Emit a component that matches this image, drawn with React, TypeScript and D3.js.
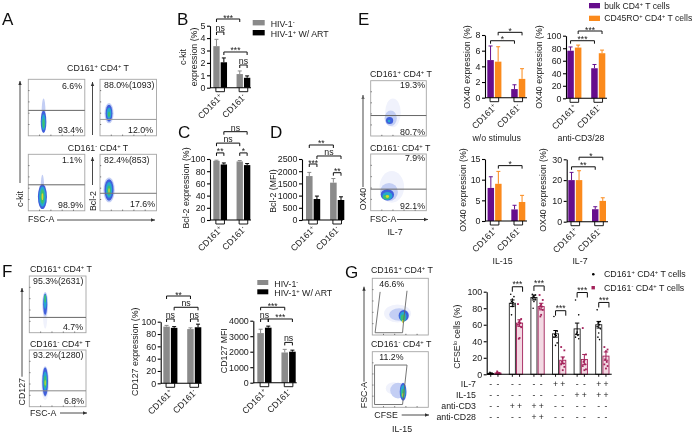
import React, { useEffect, useRef } from "react";
import * as d3 from "d3";

const FONT = "'Liberation Sans', Arial, sans-serif";
const GRAY = "#8a8a8a";
const BLACK = "#000000";
const PURPLE = "#66118c";
const ORANGE = "#fb8a1c";
const CRIMSON = "#a3215a";

// bar means and error tops, order: CD161+ (two series), CD161- (two series)
const ckitMeans = [3.35, 2.05, 1.1, 0.8];
const ckitTops = [3.9, 2.4, 1.35, 0.95];
const bcl2Means = [97, 91, 96, 90];
const bcl2Tops = [98, 93.5, 97.5, 92.5];
const bcl2MfiMeans = [1800, 860, 1530, 820];
const bcl2MfiTops = [1950, 980, 1700, 950];
const ox40NoStimMeans = [4.8, 4.6, 1.1, 2.4];
const ox40NoStimTops = [6.6, 6.5, 1.65, 3.7];
const ox40Cd3Means = [76, 81, 48, 72];
const ox40Cd3Tops = [82, 85, 54, 77];
const ox40Il15Means = [8, 9, 2.8, 4.6];
const ox40Il15Tops = [10.7, 12, 3.8, 6.2];
const ox40Il7Means = [20, 20, 6, 10];
const ox40Il7Tops = [23.7, 24.5, 7.2, 11.5];
const cd127Means = [92, 90, 88, 91];
const cd127Tops = [94, 92, 90, 96];
const cd127MfiMeans = [3200, 3550, 1950, 2000];
const cd127MfiTops = [3450, 3650, 2150, 2100];

// brackets: first bar, last bar, height on the y axis, label
type Bracket = [number, number, number, string];
const ckitBrackets: Bracket[] = [[0, 2, 5.54, "***"], [0, 1, 4.49, "ns"], [1, 3, 2.88, "***"], [2, 3, 1.83, "ns"]];
const bcl2Brackets: Bracket[] = [[1, 3, 144.8, "ns"], [0, 2, 126, "ns"], [0, 1, 110, "**"], [2, 3, 110, "*"]];
const bcl2MfiBrackets: Bracket[] = [[0, 2, 3074, "**"], [1, 3, 2623, "ns"], [0, 1, 2295, "***"], [2, 3, 1939, "**"]];
const ox40NoStimBrackets: Bracket[] = [[1, 3, 8.34, "*"], [0, 2, 7.27, "*"]];
const ox40Cd3Brackets: Bracket[] = [[1, 3, 107.5, "***"], [0, 2, 92, "***"]];
const ox40Il15Brackets: Bracket[] = [[1, 3, 13.4, "*"]];
const ox40Il7Brackets: Bracket[] = [[1, 3, 31, "*"], [0, 2, 26.4, "**"]];
const cd127Brackets: Bracket[] = [[0, 2, 141.7, "**"], [1, 3, 123.4, "ns"], [0, 1, 104.4, "ns"], [2, 3, 104.4, "ns"]];
const cd127MfiBrackets: Bracket[] = [[0, 2, 4865, "***"], [0, 1, 4110, "ns"], [1, 3, 4110, "***"], [2, 3, 2600, "ns"]];

// CFSE proliferation panel
const cfseGroups = ["none", "cd3", "cd328", "il7", "il15", "il7il15"];
const cfsePosMeans = [1, 86, 93, 49, 55, 60];
const cfseNegMeans = [1.5, 62, 82, 17, 18, 22];
const cfsePosSem = [0.5, 4, 3, 4, 7, 4];
const cfseNegSem = [0.7, 4, 4, 4, 6, 5];
const cfsePosDots = [
  [0.5, 1, 1.5, 2.5, 0.8],
  [97, 94, 91, 88, 87, 86, 84, 82, 72],
  [97, 96, 95, 94, 93, 92, 91, 88, 80],
  [70, 52, 50, 48, 47, 45, 38, 35],
  [90, 72, 51, 49, 47, 45, 43],
  [78, 64, 63, 62, 60, 58, 55, 50, 45, 42],
];
const cfseNegDots = [
  [0.5, 1, 2, 3.5, 1],
  [85, 67, 65, 63, 62, 60, 57, 44, 43],
  [96, 90, 85, 83, 82, 80, 78, 72, 70],
  [33, 29, 20, 15, 13, 12, 9, 5],
  [56, 24, 17, 15, 12, 10, 6, 5],
  [33, 30, 28, 18, 15, 12, 10, 7],
];
const cfseBrackets: [number, number][] = [[1, 106], [2, 107], [3, 77], [4, 99], [5, 87]];
const il7Row = ["-", "-", "-", "+", "-", "+"];
const il15Row = ["-", "-", "-", "-", "+", "+"];
const cd3Row = ["-", "+", "+", "-", "-", "-"];
const cd28Row = ["-", "-", "+", "-", "-", "-"];

// flow density contours: FSC %, marker %, radius x, radius y, density level
type Blob = [number, number, number, number, number];
const densityColors = ["#f0f2fc", "#c3cef4", "#3f5fdc", "#25a8d0", "#3cc070", "#d8d830"];
const kitPosBlobs: Blob[] = [[27, 40, 3.5, 26, 1], [27, 25, 5, 20, 2], [27, 24, 3.5, 14, 3], [27, 22, 2, 8, 4]];
const bclPosBlobs: Blob[] = [[16, 40, 8, 18, 1], [16, 40, 6, 15, 2], [16, 40, 4, 10, 3], [16, 38, 2, 5, 4]];
const kitNegBlobs: Blob[] = [[25, 40, 3, 24, 1], [25, 25, 8, 22, 2], [25, 25, 6, 18, 3], [25, 25, 3.5, 13, 4], [25, 25, 1.5, 6, 5]];
const bclNegBlobs: Blob[] = [[16, 37, 10, 22, 1], [16, 37, 8, 19, 2], [16, 37, 5.5, 14, 3], [16, 36, 3, 9, 4], [16, 36, 1.2, 4, 5]];
const oxPosBlobs: Blob[] = [[40, 42, 14, 26, 0], [36, 32, 11, 14, 1], [34, 28, 6.5, 6.5, 2], [33, 27, 2.5, 2.5, 3]];
const oxNegBlobs: Blob[] = [[38, 42, 22, 28, 0], [33, 33, 16, 16, 1], [30, 28, 12, 10, 2], [30, 26, 9, 7, 3], [28, 24, 6, 4, 4], [30, 25, 3, 2.5, 5]];
const cd127PosBlobs: Blob[] = [[28, 35, 4, 28, 0], [28, 50, 5, 22, 1], [28, 50, 3.5, 19, 2], [28, 55, 2.5, 13, 3], [28, 60, 1.5, 7, 4]];
const cd127NegBlobs: Blob[] = [[28, 42, 7, 30, 0], [28, 44, 6, 27, 1], [28, 44, 5, 25, 2], [28, 45, 3.5, 17, 3], [28, 44, 2.2, 11, 4], [28, 42, 1, 5, 5]];
const cfsePosBlobs: Blob[] = [[45, 38, 24, 16, 0], [48, 36, 18, 11, 1], [56, 34, 9, 10, 2], [55, 32, 6, 9, 3], [55, 30, 4, 6, 4], [55, 24, 1.8, 3, 5]];
const cfseNegBlobs: Blob[] = [[38, 34, 14, 11, 0], [46, 30, 14, 14, 1], [55, 28, 6, 16, 2], [55, 28, 4.5, 12, 3], [55, 25, 3, 8, 4], [55, 22, 1.4, 3.5, 5]];

// gate outlines in FSC % / marker %
const gatePos: [number, number][] = [[14, 76], [5, 4], [54, 4], [56, 26], [62, 78]];
const gateNeg: [number, number][] = [[4, 76], [62, 76], [54, 5], [4, 5], [4, 76]];

// text with ^ marking a superscript run, e.g. CD161^+
function Rich({ text }: { text: string }) {
  const parts = text.split(/(\^[^\s]+)/).filter((p) => p !== "");
  let raised = false;
  return (
    <>
      {parts.map((p, i) => {
        if (p[0] === "^") {
          raised = true;
          return (
            <tspan key={i} dy={-3} fontSize="0.65em">
              {p.slice(1)}
            </tspan>
          );
        }
        const dy = raised ? 3 : 0;
        raised = false;
        return (
          <tspan key={i} dy={dy}>
            {p}
          </tspan>
        );
      })}
    </>
  );
}

function T({ x, y, text, size = 8.8, anchor = "start", rot = 0, fill = "#1a1a1a" }: any) {
  return (
    <text
      x={x}
      y={y}
      fontSize={size}
      textAnchor={anchor}
      fill={fill}
      fontFamily={FONT}
      transform={rot ? `rotate(${rot},${x},${y})` : undefined}
    >
      <Rich text={text} />
    </text>
  );
}

function YAxis({ scale, ticks, x }: any) {
  const ref = useRef<SVGGElement>(null);
  useEffect(() => {
    const axis = d3
      .axisLeft(scale)
      .tickValues(ticks)
      .tickFormat(d3.format("d") as any)
      .tickSize(3)
      .tickPadding(1.5)
      .tickSizeOuter(0);
    const g = d3.select(ref.current).call(axis as any);
    g.attr("font-family", FONT).attr("font-size", 8.9);
    g.selectAll("path,line").attr("stroke", "#000").attr("stroke-width", 1.1);
    g.selectAll("text").attr("fill", "#1a1a1a");
  }, []);
  return <g ref={ref} transform={`translate(${x},0)`} />;
}

function BracketMark({ x1, x2, y, label, leg = 3, lift = 0 }: any) {
  const isNs = label === "ns";
  return (
    <g>
      <path d={`M${x1},${y + leg}V${y}H${x2}V${y + leg}`} fill="none" stroke="#111" strokeWidth={1} />
      <T x={(x1 + x2) / 2} y={(isNs ? y - 1 : y + 1.5) - lift} text={label} size={isNs ? 8.8 : 8.5} anchor="middle" />
    </g>
  );
}

function BarChart({ axisX, axisEnd, y0, yTop, max, ticks, barsFrom, barsTo, means, tops, colors, brackets, yLabels, labelCy, xLabelY = 10 }: any) {
  const y = d3.scaleLinear().domain([0, max]).range([y0, yTop]);
  const groups = ["CD161^+", "CD161^-"];
  const x0 = d3.scaleBand().domain(groups).range([barsFrom, barsTo]).paddingInner(0.41);
  const x1 = d3.scaleBand().domain(["a", "b"]).range([0, x0.bandwidth()]).paddingInner(0.14);
  const barX = (i: number) => (x0(groups[i >> 1]) as number) + (x1(i % 2 ? "b" : "a") as number);
  const w = x1.bandwidth();
  return (
    <g>
      {means.map((m: number, i: number) => {
        const c = colors[i % 2];
        const cx = barX(i) + w / 2;
        return (
          <g key={i}>
            <path d={`M${cx},${y(m)}V${y(tops[i])}M${cx - 2},${y(tops[i])}H${cx + 2}`} stroke={c} strokeWidth={1} fill="none" />
            <rect x={barX(i)} y={y(m)} width={w} height={y0 - y(m)} fill={c} />
          </g>
        );
      })}
      <line x1={axisX} x2={axisEnd} y1={y0} y2={y0} stroke="#000" strokeWidth={1.1} />
      <YAxis scale={y} ticks={ticks} x={axisX} />
      {groups.map((g) => {
        const c = (x0(g) as number) + x0.bandwidth() / 2;
        return (
          <g key={g}>
            <path d={`M${c - 4.3},${y0}V${y0 + 4}H${c + 4.3}V${y0}`} fill="none" stroke="#000" strokeWidth={0.9} />
            <T x={c + 3} y={y0 + xLabelY} text={g} anchor="end" rot={-45} />
          </g>
        );
      })}
      {brackets.map((b: Bracket, i: number) => (
        <BracketMark key={i} x1={barX(b[0]) + w / 2} x2={barX(b[1]) + w / 2} y={y(b[2])} label={b[3]} />
      ))}
      {yLabels.map((l: any) => (
        <T key={l.text} x={l.x} y={labelCy} text={l.text} anchor="middle" rot={-90} />
      ))}
    </g>
  );
}

function FlowPlot({ x, y, w = 56.5, h = 56.5, blobs, gateY, gateColor = "#666", gate, labels }: any) {
  const sx = d3.scaleLinear().domain([0, 100]).range([x, x + w]);
  const sy = d3.scaleLinear().domain([0, 100]).range([y + h, y]);
  const kx = w / 100;
  const ky = h / 100;
  const line = d3.line();
  return (
    <g>
      <rect x={x} y={y} width={w} height={h} fill="#fff" stroke="#a5a5a5" strokeWidth={0.9} />
      {sx.ticks(6).slice(1, -1).map((t) => (
        <line key={`b${t}`} x1={sx(t)} x2={sx(t)} y1={y + h} y2={y + h - 1.2} stroke="#444" strokeWidth={0.7} />
      ))}
      {sy.ticks(4).slice(1, -1).map((t) => (
        <line key={`l${t}`} x1={x} x2={x + 1.2} y1={sy(t)} y2={sy(t)} stroke="#444" strokeWidth={0.7} />
      ))}
      <g filter="url(#soft)">
        {blobs.map((b: Blob, i: number) => (
          <ellipse key={i} cx={sx(b[0])} cy={sy(b[1])} rx={b[2] * kx} ry={b[3] * ky} fill={densityColors[b[4]]} />
        ))}
      </g>
      {gateY !== undefined && <line x1={x} x2={x + w} y1={sy(gateY)} y2={sy(gateY)} stroke={gateColor} strokeWidth={1} />}
      {gate && (
        <path
          d={line(gate.map((p: [number, number]) => [sx(p[0]), sy(p[1])] as [number, number])) as string}
          fill="none"
          stroke="#666"
          strokeWidth={0.9}
        />
      )}
      {labels.map((l: any) => (
        <T key={l.text} x={l.x} y={l.y} text={l.text} anchor={l.anchor || "start"} />
      ))}
    </g>
  );
}

function Arrow({ x1, y1, x2, y2, color = "#333", width = 0.9 }: any) {
  const a = Math.atan2(y2 - y1, x2 - x1);
  const p = d3.path();
  p.moveTo(x2, y2);
  p.lineTo(x2 - 4 * Math.cos(a) + 1.7 * Math.sin(a), y2 - 4 * Math.sin(a) - 1.7 * Math.cos(a));
  p.lineTo(x2 - 4 * Math.cos(a) - 1.7 * Math.sin(a), y2 - 4 * Math.sin(a) + 1.7 * Math.cos(a));
  p.closePath();
  return (
    <g>
      <line x1={x1} y1={y1} x2={x2} y2={y2} stroke={color} strokeWidth={width} />
      <path d={p.toString()} fill={color} />
    </g>
  );
}

function CfseChart() {
  const axisX = 486.7;
  const y0 = 374.3;
  const y = d3.scaleLinear().domain([0, 100]).range([y0, 291.7]);
  const x0 = d3.scaleBand().domain(cfseGroups).range([487.7, 609]).paddingInner(0.384);
  const x1 = d3.scaleBand().domain(["pos", "neg"]).range([0, x0.bandwidth()]).paddingInner(0.16);
  const w = x1.bandwidth();
  const jitter = (i: number) => [-1.6, 1.6, 0, -0.8, 0.8][i % 5];
  const rows = [
    { label: "IL-7", row: il7Row, y: 386.5 },
    { label: "IL-15", row: il15Row, y: 397.5 },
    { label: "anti-CD3", row: cd3Row, y: 409 },
    { label: "anti-CD28", row: cd28Row, y: 419.5 },
  ];
  return (
    <g>
      {cfseGroups.map((g, i) => {
        const px = (x0(g) as number) + (x1("pos") as number);
        const nx = (x0(g) as number) + (x1("neg") as number);
        const pc = px + w / 2;
        const nc = nx + w / 2;
        return (
          <g key={g}>
            <rect x={px} y={y(cfsePosMeans[i])} width={w} height={y0 - y(cfsePosMeans[i])} fill="#fff" stroke="#222" strokeWidth={0.9} />
            <rect x={nx} y={y(cfseNegMeans[i])} width={w} height={y0 - y(cfseNegMeans[i])} fill="#f3d9e3" stroke={CRIMSON} strokeWidth={0.9} />
            {cfsePosDots[i].map((d, j) => (
              <circle key={j} cx={pc + jitter(j)} cy={y(d)} r={0.8} fill="#000" />
            ))}
            {cfseNegDots[i].map((d, j) => (
              <rect key={j} x={nc + jitter(j) - 0.9} y={y(d) - 0.9} width={1.8} height={1.8} fill={CRIMSON} />
            ))}
            <path
              d={`M${pc},${y(cfsePosMeans[i] - cfsePosSem[i])}V${y(cfsePosMeans[i] + cfsePosSem[i])}M${pc - 2.2},${y(cfsePosMeans[i] + cfsePosSem[i])}H${pc + 2.2}M${pc - 2.2},${y(cfsePosMeans[i] - cfsePosSem[i])}H${pc + 2.2}`}
              stroke="#000"
              strokeWidth={1}
              fill="none"
            />
            <path
              d={`M${nc},${y(cfseNegMeans[i] - cfseNegSem[i])}V${y(cfseNegMeans[i] + cfseNegSem[i])}M${nc - 2.2},${y(cfseNegMeans[i] + cfseNegSem[i])}H${nc + 2.2}M${nc - 2.2},${y(cfseNegMeans[i] - cfseNegSem[i])}H${nc + 2.2}`}
              stroke={CRIMSON}
              strokeWidth={1}
              fill="none"
            />
            <line x1={pc} x2={pc} y1={y0} y2={y0 + 2.5} stroke="#000" strokeWidth={0.9} />
            <line x1={nc} x2={nc} y1={y0} y2={y0 + 2.5} stroke="#000" strokeWidth={0.9} />
            {rows.map((r) => (
              <g key={r.label}>
                <T x={pc} y={r.y} text={r.row[i]} size={8.6} anchor="middle" />
                <T x={nc} y={r.y} text={r.row[i]} size={8.6} anchor="middle" />
              </g>
            ))}
          </g>
        );
      })}
      <line x1={axisX} x2={611.7} y1={y0} y2={y0} stroke="#000" strokeWidth={1.1} />
      <YAxis scale={y} ticks={[0, 20, 40, 60, 80, 100]} x={axisX} />
      {cfseBrackets.map(([g, level]) => {
        const left = (x0(cfseGroups[g]) as number) + w / 2;
        return <BracketMark key={g} x1={left} x2={left + x0.bandwidth() - w + 3} y={y(level)} label="***" leg={5} lift={1} />;
      })}
      {rows.map((r) => (
        <T key={r.label} x={476} y={r.y} text={r.label} anchor="end" />
      ))}
      <T x={460} y={336.7} text="CFSE^lo cells (%)" anchor="middle" rot={-90} />
      <circle cx={593.3} cy={274.3} r={1.3} fill="#000" />
      <T x={604} y={277} text="CD161^+ CD4^+ T cells" />
      <rect x={591.5} y={286} width={3.4} height={3.4} fill={CRIMSON} />
      <T x={604} y={291} text="CD161^- CD4^+ T cells" />
    </g>
  );
}

export default function App() {
  const hiv = [GRAY, BLACK];
  const ox = [PURPLE, ORANGE];
  const letters: [string, number, number][] = [
    ["A", 2, 25], ["B", 177, 24.5], ["C", 178, 138], ["D", 270, 138],
    ["E", 358, 25], ["F", 2, 277], ["G", 345, 278],
  ];
  return (
    <svg width={696} height={435} style={{ position: "absolute", left: 0, top: 0, background: "#fff" }}>
      <defs>
        <filter id="soft" x="-40%" y="-40%" width="180%" height="180%">
          <feGaussianBlur stdDeviation={0.7} />
        </filter>
        <filter id="scan" x="0" y="0" width="100%" height="100%">
          <feGaussianBlur stdDeviation={0.3} />
        </filter>
      </defs>
      <g filter="url(#scan)">
      {letters.map(([l, x, y]) => (
        <T key={l} x={x} y={y} text={l} size={17} fill="#111" />
      ))}

      {/* A */}
      <T x={98} y={71} text="CD161^+ CD4^+ T" anchor="middle" />
      <T x={98} y={150.5} text="CD161^- CD4^+ T" anchor="middle" />
      <FlowPlot x={28.3} y={79.3} blobs={kitPosBlobs} gateY={45} labels={[{ text: "6.6%", x: 82, y: 89, anchor: "end" }, { text: "93.4%", x: 83, y: 133, anchor: "end" }]} />
      <FlowPlot x={100} y={79.3} blobs={bclPosBlobs} gateY={29} gateColor="#999" labels={[{ text: "88.0%(1093)", x: 104, y: 88 }, { text: "12.0%", x: 153, y: 133, anchor: "end" }]} />
      <FlowPlot x={28.3} y={154.3} blobs={kitNegBlobs} gateY={46} labels={[{ text: "1.1%", x: 82, y: 163, anchor: "end" }, { text: "98.9%", x: 83, y: 208, anchor: "end" }]} />
      <FlowPlot x={100} y={154.3} blobs={bclNegBlobs} gateY={31} gateColor="#777" labels={[{ text: "82.4%(853)", x: 104, y: 163 }, { text: "17.6%", x: 155, y: 207, anchor: "end" }]} />
      <Arrow x1={20} y1={183} x2={20} y2={81} />
      <T x={23} y={199} text="c-kit" anchor="middle" rot={-90} />
      <Arrow x1={92.5} y1={135} x2={92.5} y2={82} />
      <Arrow x1={92.5} y1={185} x2={92.5} y2={157} />
      <T x={95.5} y={201} text="Bcl-2" anchor="middle" rot={-90} />
      <T x={28} y={222} text="FSC-A" />
      <Arrow x1={57} y1={220} x2={155} y2={220} />

      {/* B */}
      <BarChart axisX={210} axisEnd={251} y0={87.7} yTop={25.7} max={5} ticks={[0, 1, 2, 3, 4, 5]} barsFrom={213.3} barsTo={250.3} means={ckitMeans} tops={ckitTops} colors={hiv} brackets={ckitBrackets} yLabels={[{ text: "c-kit", x: 186 }, { text: "expression (%)", x: 197 }]} labelCy={57} />
      <rect x={252.7} y={20} width={12} height={5.4} fill={GRAY} />
      <T x={270.7} y={27} text="HIV-1^-" />
      <rect x={252.7} y={30} width={12} height={5.4} fill={BLACK} />
      <T x={270.7} y={36.5} text="HIV-1^+ W/ ART" />

      {/* C, D */}
      <BarChart axisX={210} axisEnd={251} y0={220} yTop={159} max={100} ticks={[0, 20, 40, 60, 80, 100]} barsFrom={213.3} barsTo={250.3} means={bcl2Means} tops={bcl2Tops} colors={hiv} brackets={bcl2Brackets} yLabels={[{ text: "Bcl-2 expression (%)", x: 189 }]} labelCy={188} />
      <BarChart axisX={302} axisEnd={343} y0={220} yTop={159} max={2500} ticks={[0, 500, 1000, 1500, 2000, 2500]} barsFrom={306} barsTo={344.3} means={bcl2MfiMeans} tops={bcl2MfiTops} colors={hiv} brackets={bcl2MfiBrackets} yLabels={[{ text: "Bcl-2 (MFI)", x: 276 }]} labelCy={191} />

      {/* E */}
      <T x={370} y={77} text="CD161^+ CD4^+ T" />
      <T x={370} y={151} text="CD161^- CD4^+ T" />
      <FlowPlot x={370.7} y={80.7} w={55.6} h={55.3} blobs={oxPosBlobs} gateY={37} labels={[{ text: "19.3%", x: 425, y: 88, anchor: "end" }, { text: "80.7%", x: 425, y: 135, anchor: "end" }]} />
      <FlowPlot x={370.7} y={154} w={55.6} h={56.7} blobs={oxNegBlobs} gateY={38} labels={[{ text: "7.9%", x: 425, y: 161, anchor: "end" }, { text: "92.1%", x: 425, y: 209, anchor: "end" }]} />
      <Arrow x1={363} y1={187} x2={363} y2={95} color="#666" width={1.2} />
      <T x={366} y={199} text="OX40" anchor="middle" rot={-90} />
      <T x={370} y={222} text="FSC-A" />
      <Arrow x1={397} y1={219.5} x2={428} y2={219.5} />
      <T x={395} y={235} text="IL-7" anchor="middle" />
      <rect x={589} y={3} width={11} height={5.3} fill={PURPLE} />
      <T x={604.3} y={9} text="bulk CD4^+ T cells" size={8.6} />
      <rect x={589} y={15.7} width={11} height={5.3} fill={ORANGE} />
      <T x={604.3} y={21} text="CD45RO^+ CD4^+ T cells" size={8.6} />
      <BarChart axisX={485} axisEnd={527} y0={97.7} yTop={35} max={8} ticks={[0, 2, 4, 6, 8]} barsFrom={487.3} barsTo={525.3} means={ox40NoStimMeans} tops={ox40NoStimTops} colors={ox} brackets={ox40NoStimBrackets} yLabels={[{ text: "OX40 expression (%)", x: 470 }]} labelCy={67} />
      <BarChart axisX={566} axisEnd={607} y0={98.3} yTop={35.7} max={100} ticks={[0, 20, 40, 60, 80, 100]} barsFrom={567.3} barsTo={605.3} means={ox40Cd3Means} tops={ox40Cd3Tops} colors={ox} brackets={ox40Cd3Brackets} yLabels={[{ text: "OX40 expression (%)", x: 542 }]} labelCy={67} />
      <T x={496.7} y={141} text="w/o stimulus" anchor="middle" />
      <T x={581} y={141} text="anti-CD3/28" anchor="middle" />
      <BarChart axisX={485} axisEnd={527} y0={221} yTop={159} max={15} ticks={[0, 5, 10, 15]} barsFrom={487.6} barsTo={525.3} means={ox40Il15Means} tops={ox40Il15Tops} colors={ox} brackets={ox40Il15Brackets} yLabels={[{ text: "OX40 expression (%)", x: 466 }]} labelCy={190} />
      <BarChart axisX={566.7} axisEnd={608} y0={221.7} yTop={159.3} max={30} ticks={[0, 10, 20, 30]} barsFrom={568.3} barsTo={606} means={ox40Il7Means} tops={ox40Il7Tops} colors={ox} brackets={ox40Il7Brackets} yLabels={[{ text: "OX40 expression (%)", x: 546 }]} labelCy={190} />
      <T x={502.5} y={264} text="IL-15" anchor="middle" />
      <T x={580} y={264} text="IL-7" anchor="middle" />

      {/* F */}
      <T x={30} y={272} text="CD161^+ CD4^+ T" />
      <T x={30} y={347} text="CD161^- CD4^+ T" />
      <FlowPlot x={29.3} y={276} w={56.7} h={56.7} blobs={cd127PosBlobs} gateY={27} labels={[{ text: "95.3%(2631)", x: 33, y: 284 }, { text: "4.7%", x: 83, y: 329.5, anchor: "end" }]} />
      <FlowPlot x={29.3} y={350} w={56.7} h={56.7} blobs={cd127NegBlobs} gateY={28} gateColor="#888" labels={[{ text: "93.2%(1280)", x: 33, y: 358 }, { text: "6.8%", x: 84, y: 404, anchor: "end" }]} />
      <Arrow x1={22} y1={376.7} x2={22} y2={288} />
      <T x={25} y={391.7} text="CD127" anchor="middle" rot={-90} />
      <T x={30} y={416} text="FSC-A" />
      <Arrow x1={60} y1={413} x2={87} y2={413} />
      <BarChart axisX={160.7} axisEnd={201.7} y0={383.3} yTop={321.7} max={100} ticks={[0, 20, 40, 60, 80, 100]} barsFrom={163.3} barsTo={201.3} means={cd127Means} tops={cd127Tops} colors={hiv} brackets={cd127Brackets} yLabels={[{ text: "CD127 expression (%)", x: 138.5 }]} labelCy={351.7} />
      <BarChart axisX={253.3} axisEnd={296.7} y0={382.7} yTop={320.7} max={4000} ticks={[0, 1000, 2000, 3000, 4000]} barsFrom={257.3} barsTo={295.7} means={cd127MfiMeans} tops={cd127MfiTops} colors={hiv} brackets={cd127MfiBrackets} yLabels={[{ text: "CD127 MFI", x: 227 }]} labelCy={350.7} />
      <rect x={257.3} y={280} width={11} height={5} fill={GRAY} />
      <T x={274.3} y={286.5} text="HIV-1^-" />
      <rect x={257.3} y={289.3} width={11} height={5} fill={BLACK} />
      <T x={274.3} y={296} text="HIV-1^+ W/ ART" />

      {/* G */}
      <T x={371} y={273} text="CD161^+ CD4^+ T" />
      <T x={371} y={347} text="CD161^- CD4^+ T" />
      <FlowPlot x={372.3} y={278.3} w={56} h={56.7} blobs={cfsePosBlobs} gate={gatePos} labels={[{ text: "46.6%", x: 379.3, y: 286.7 }]} />
      <FlowPlot x={372.3} y={351.7} w={56} h={55.6} blobs={cfseNegBlobs} gate={gateNeg} labels={[{ text: "11.2%", x: 379.3, y: 360 }]} />
      <Arrow x1={364} y1={381.7} x2={364} y2={286.7} />
      <T x={367} y={395} text="FSC-A" anchor="middle" rot={-90} />
      <T x={374.3} y={418} text="CFSE" />
      <Arrow x1={401.7} y1={415} x2={429} y2={415} />
      <T x={402} y={432} text="IL-15" anchor="middle" />
      <CfseChart />
      </g>
    </svg>
  );
}
